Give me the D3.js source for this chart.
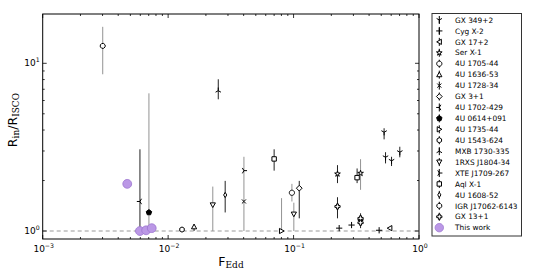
<!DOCTYPE html>
<html>
<head>
<meta charset="utf-8">
<script src="https://cdn.jsdelivr.net/npm/d3@7"></script>
<style>
  body { margin: 0; background: #fff; }
  svg { display: block; font-family: "DejaVu Sans", sans-serif; }
  .sub { font-family: "DejaVu Serif", "Liberation Serif", serif; }
</style>
</head>
<body>
<svg id="chart" width="538" height="269"></svg>
<script>
//----------------
// Data
//----------------

const sources = ["GX 349+2", "Cyg X-2", "GX 17+2", "Ser X-1", "4U 1705-44", "4U 1636-53",
  "4U 1728-34", "GX 3+1", "4U 1702-429", "4U 0614+091", "4U 1735-44", "4U 1543-624",
  "MXB 1730-335", "1RXS J1804-34", "XTE J1709-267", "Aql X-1", "4U 1608-52",
  "IGR J17062-6143", "GX 13+1", "This work"];
const markers = ["1", "+", "<", "*", "o", "^", "x", "D", "3", "p", ">", "h",
  "2", "v", "4", "s", "d", "8", "P", "O"];

// one entry per measurement (source index, Eddington fraction, Rin/Risco, error range)
const srcOf = [0, 0, 0, 0, 1, 1, 1, 2, 3, 3, 3, 4, 5, 6, 7, 8, 9, 10, 11, 12, 13, 13,
  14, 15, 15, 16, 17, 18, 18, 18, 19, 19, 19, 19];
const fEdd = [0.527, 0.541, 0.604, 0.703, 0.231, 0.290, 0.481, 0.585, 0.224, 0.342, 0.342,
  0.097, 0.0161, 0.0402, 0.111, 0.00596, 0.00703, 0.0802, 0.0129, 0.0251, 0.0227, 0.1005,
  0.0402, 0.0700, 0.321, 0.0285, 0.00301, 0.224, 0.342, 0.342, 0.00472, 0.00596, 0.00668, 0.0074];
const rIn = [3.88, 2.75, 2.62, 2.95, 1.04, 1.085, 1.01, 1.04, 2.19, 2.21, 1.15,
  1.69, 1.06, 1.50, 1.80, 1.50, 1.29, 1.0, 1.02, 6.87, 1.43, 1.26,
  2.29, 2.69, 2.08, 1.64, 12.7, 1.40, 1.19, 1.12, 1.91, 1.0, 1.01, 1.04];
const rLo = [3.52, 2.53, 2.44, 2.75, null, null, null, null, 1.93, 1.76, 1.10,
  1.50, 1.0, 1.0, 1.19, 0.99, 1.01, 1.0, null, 6.10, 1.0, 1.0,
  null, 2.29, 1.93, 1.29, 8.6, 1.19, 1.04, null, null, null, null, null];
const rHi = [4.10, 2.95, 2.77, 3.18, null, null, null, null, 2.47, 2.68, 1.22,
  1.91, 1.10, 2.77, 1.99, 3.07, 6.62, 1.57, null, 8.03, 1.84, 1.475,
  null, 3.07, 2.36, 1.99, 16.5, 1.59, 1.275, null, null, null, null, null];
// error bar tone: 1 = grey, 0 = black
const errGrey = [0, 0, 0, 0, 0, 0, 0, 0, 0, 1, 1,
  1, 0, 1, 0, 0, 1, 1, 0, 0, 1, 1,
  0, 0, 0, 0, 1, 0, 0, 0, 0, 0, 0, 0];

const xTicks = [1e-3, 1e-2, 1e-1, 1];
const xTickExp = ["\u22123", "\u22122", "\u22121", "0"];
const yTicks = [1, 10];
const yTickExp = ["0", "1"];

//----------------
// Constants
//----------------

const box = {left: 42.7, right: 419, top: 14, bottom: 239};
const greyErr = "#939393";
const purple = "#bb98e6";
const mSize = 2.6;

//----------------
// Marker shapes
//----------------

function polygon(n, r, rot) {
  var pts = d3.range(n).map(function(i) {
    var a = rot + i * 2 * Math.PI / n;
    return [r * Math.sin(a), -r * Math.cos(a)];
  });
  return "M" + pts.map(function(p) { return p[0].toFixed(2) + "," + p[1].toFixed(2); }).join("L") + "Z";
}

function spokes(r, angles) {
  return angles.map(function(a) {
    var t = a * Math.PI / 180;
    return "M0,0L" + (r * Math.sin(t)).toFixed(2) + "," + (-r * Math.cos(t)).toFixed(2);
  }).join("");
}

function markerPath(m, r) {
  switch (m) {
    case "o": case "O": return polygon(24, r, 0);
    case "s": return "M" + (-r * 0.85) + "," + (-r * 0.85) + "h" + (r * 1.7) + "v" + (r * 1.7) + "h" + (-r * 1.7) + "Z";
    case "^": return "M0," + (-r) + "L" + r + "," + r * 0.8 + "L" + (-r) + "," + r * 0.8 + "Z";
    case "v": return "M0," + r + "L" + r + "," + (-r * 0.8) + "L" + (-r) + "," + (-r * 0.8) + "Z";
    case "<": return "M" + (-r) + ",0L" + r * 0.8 + "," + (-r) + "L" + r * 0.8 + "," + r + "Z";
    case ">": return "M" + r + ",0L" + (-r * 0.8) + "," + (-r) + "L" + (-r * 0.8) + "," + r + "Z";
    case "D": return "M0," + (-r * 1.1) + "L" + r * 1.1 + ",0L0," + r * 1.1 + "L" + (-r * 1.1) + ",0Z";
    case "d": return "M0," + (-r) + "L" + r * 0.6 + ",0L0," + r + "L" + (-r * 0.6) + ",0Z";
    case "p": return polygon(5, r * 1.1, 0);
    case "h": return polygon(6, r, 0);
    case "8": return polygon(8, r, Math.PI / 8);
    case "*":
      var pts = d3.range(10).map(function(i) {
        var rr = i % 2 ? r * 0.42 : r * 1.15, a = i * Math.PI / 5;
        return (rr * Math.sin(a)).toFixed(2) + "," + (-rr * Math.cos(a)).toFixed(2);
      });
      return "M" + pts.join("L") + "Z";
    case "P":
      var w = r * 0.35;
      return "M" + (-w) + "," + (-r) + "H" + w + "V" + (-w) + "H" + r + "V" + w + "H" + w + "V" + r +
        "H" + (-w) + "V" + w + "H" + (-r) + "V" + (-w) + "H" + (-w) + "Z";
    case "+": return spokes(r * 1.2, [0, 90, 180, 270]);
    case "x": return spokes(r * 1.1, [45, 135, 225, 315]);
    case "1": return spokes(r * 1.2, [180, 60, 300]);
    case "2": return spokes(r * 1.2, [0, 120, 240]);
    case "3": return spokes(r * 1.2, [270, 30, 150]);
    case "4": return spokes(r * 1.2, [90, 210, 330]);
  }
}

function isLineMarker(m) { return ["+", "x", "1", "2", "3", "4"].indexOf(m) >= 0; }

function styleMarker(sel, m) {
  if (m === "O") {
    sel.attr("fill", purple).attr("stroke", "#9a74cf").attr("stroke-width", 0.8);
  } else if (m === "p") {
    sel.attr("fill", "#000").attr("stroke", "#000").attr("stroke-width", 1);
  } else if (isLineMarker(m)) {
    sel.attr("fill", "none").attr("stroke", "#000").attr("stroke-width", 1);
  } else {
    sel.attr("fill", "#fff").attr("stroke", "#000").attr("stroke-width", 1);
  }
}

//----------------
// Draw
//----------------

function addPow(textSel, exp) {
  textSel.append("tspan").text("10");
  textSel.append("tspan").attr("dy", -4).attr("font-size", 6.2).text(exp);
}

function drawChart() {
  var svg = d3.select("#chart");

  var x = d3.scaleLog().domain([1e-3, 1]).range([box.left, box.right]);
  var yMin = Math.pow(10, -(239 - 231) / 167.7);
  var yMax = Math.pow(10, (231 - 14) / 167.7);
  var y = d3.scaleLog().domain([yMin, yMax]).range([box.bottom, box.top]);

  var plot = svg.append("g").attr("id", "plot");

  // reference line at Rin = Risco
  plot.append("line")
    .attr("x1", box.left).attr("x2", box.right)
    .attr("y1", y(1)).attr("y2", y(1))
    .attr("stroke", "#999").attr("stroke-width", 1)
    .attr("stroke-dasharray", "4,3");

  var idx = d3.range(fEdd.length);

  // error bars
  plot.selectAll(".err")
    .data(idx.filter(function(i) { return rLo[i] !== null; }))
    .enter().append("line")
      .attr("class", "err")
      .attr("x1", function(i) { return x(fEdd[i]); })
      .attr("x2", function(i) { return x(fEdd[i]); })
      .attr("y1", function(i) { return y(rLo[i]); })
      .attr("y2", function(i) { return y(rHi[i]); })
      .attr("stroke", function(i) { return errGrey[i] ? greyErr : "#222"; })
      .attr("stroke-width", 1);

  // markers
  idx.forEach(function(i) {
    var m = markers[srcOf[i]];
    var p = plot.append("path")
      .attr("class", "pt")
      .attr("d", markerPath(m, m === "O" ? 4.4 : mSize))
      .attr("transform", "translate(" + x(fEdd[i]) + "," + y(rIn[i]) + ")");
    styleMarker(p, m);
  });

  // frame
  svg.append("rect")
    .attr("x", box.left).attr("y", box.top)
    .attr("width", box.right - box.left).attr("height", box.bottom - box.top)
    .attr("fill", "none").attr("stroke", "#000").attr("stroke-width", 1);

  // ticks (inward, all four sides)
  var ticks = svg.append("g").attr("id", "ticks").attr("stroke", "#000").attr("stroke-width", 0.8);
  var xMinor = [];
  [1e-3, 1e-2, 1e-1].forEach(function(d) {
    d3.range(2, 10).forEach(function(k) { xMinor.push(d * k); });
  });
  var yMinor = d3.range(2, 10).concat([20]).filter(function(v) { return v < yMax; });

  xTicks.forEach(function(v) {
    ticks.append("line").attr("x1", x(v)).attr("x2", x(v)).attr("y1", box.bottom).attr("y2", box.bottom - 4);
    ticks.append("line").attr("x1", x(v)).attr("x2", x(v)).attr("y1", box.top).attr("y2", box.top + 4);
  });
  xMinor.forEach(function(v) {
    ticks.append("line").attr("x1", x(v)).attr("x2", x(v)).attr("y1", box.bottom).attr("y2", box.bottom - 2);
    ticks.append("line").attr("x1", x(v)).attr("x2", x(v)).attr("y1", box.top).attr("y2", box.top + 2);
  });
  yTicks.forEach(function(v) {
    ticks.append("line").attr("x1", box.left).attr("x2", box.left + 4).attr("y1", y(v)).attr("y2", y(v));
    ticks.append("line").attr("x1", box.right).attr("x2", box.right - 4).attr("y1", y(v)).attr("y2", y(v));
  });
  yMinor.forEach(function(v) {
    ticks.append("line").attr("x1", box.left).attr("x2", box.left + 2).attr("y1", y(v)).attr("y2", y(v));
    ticks.append("line").attr("x1", box.right).attr("x2", box.right - 2).attr("y1", y(v)).attr("y2", y(v));
  });

  // tick labels
  xTicks.forEach(function(v, i) {
    var t = svg.append("text")
      .attr("x", x(v) + 1).attr("y", 252)
      .attr("text-anchor", "middle")
      .attr("font-size", 9);
    addPow(t, xTickExp[i]);
  });
  yTicks.forEach(function(v, i) {
    var t = svg.append("text")
      .attr("x", box.left - 3).attr("y", y(v) + 3)
      .attr("text-anchor", "end")
      .attr("font-size", 9);
    addPow(t, yTickExp[i]);
  });

  // axis labels
  var xl = svg.append("text")
    .attr("x", 231).attr("y", 266)
    .attr("text-anchor", "middle").attr("font-size", 12.5);
  xl.append("tspan").text("F");
  xl.append("tspan").attr("class", "sub").attr("dy", 2).attr("font-size", 9).text("Edd");

  var yl = svg.append("text")
    .attr("transform", "translate(17,120) rotate(-90)")
    .attr("text-anchor", "middle").attr("font-size", 12.5);
  yl.append("tspan").text("R");
  yl.append("tspan").attr("class", "sub").attr("dy", 2).attr("font-size", 9).text("in");
  yl.append("tspan").attr("dy", -2).text("/R");
  yl.append("tspan").attr("class", "sub").attr("dy", 2).attr("font-size", 9).text("ISCO");

  // legend
  var legend = svg.append("g").attr("id", "legend");
  legend.append("rect")
    .attr("x", 432).attr("y", 13.5).attr("width", 89.5).attr("height", 222.5)
    .attr("fill", "#fff").attr("stroke", "#333").attr("stroke-width", 1);

  sources.forEach(function(name, i) {
    var ly = 20 + i * 10.93;
    var m = markers[i];
    if (m !== "O") {
      legend.append("line")
        .attr("x1", 439.3).attr("x2", 439.3).attr("y1", ly - 4).attr("y2", ly + 4)
        .attr("stroke", "#000").attr("stroke-width", 1);
    }
    var p = legend.append("path")
      .attr("d", markerPath(m, m === "O" ? 4.2 : mSize))
      .attr("transform", "translate(439.3," + ly + ")");
    styleMarker(p, m);
    legend.append("text")
      .attr("x", 455).attr("y", ly + 2.7)
      .attr("font-size", 7.4)
      .text(name);
  });
}

drawChart();
</script>
</body>
</html>
